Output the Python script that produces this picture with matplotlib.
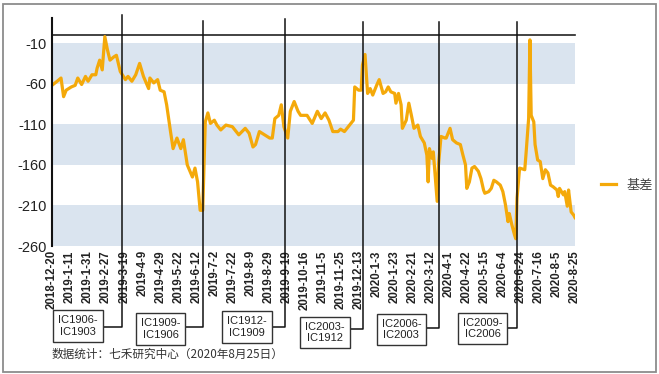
import matplotlib
matplotlib.use('Agg')
import matplotlib.pyplot as plt
import matplotlib.patches as mpatches
import matplotlib.transforms as mtransforms

plt.rcParams['font.family'] = ['Liberation Sans', 'Noto Sans CJK SC', 'DejaVu Sans']

# x tick labels, one every 14 trading days
date_labels = ['2018-12-20', '2019-1-11', '2019-1-31', '2019-2-27', '2019-3-19', '2019-4-9',
               '2019-4-29', '2019-5-22', '2019-6-12', '2019-7-2', '2019-7-22', '2019-8-9',
               '2019-8-29', '2019-9-19', '2019-10-16', '2019-11-5', '2019-11-25', '2019-12-13',
               '2020-1-3', '2020-1-23', '2020-2-21', '2020-3-12', '2020-4-1', '2020-4-22',
               '2020-5-15', '2020-6-4', '2020-6-24', '2020-7-16', '2020-8-5', '2020-8-25']
step = 14

# basis series: trading-day index and value
day = [0, 4, 7, 9, 11, 15, 18, 20, 23, 26, 28, 31, 34, 35, 37, 39, 41, 43, 45, 48,
       50, 53, 57, 59, 62, 65, 68, 71, 75, 76, 79, 82, 84, 87, 89, 92, 94, 97, 100, 102,
       105, 109, 111, 113, 115, 117, 119, 121, 123, 126, 128, 131, 135, 140, 145, 150, 153,
       156, 158, 161, 165, 169, 171, 173, 176, 178, 180, 183, 185, 188, 191, 193, 198, 202, 206,
       209, 212, 215, 218, 222, 224, 227, 231, 234, 235, 238, 240, 241, 243, 245, 247, 249,
       252, 254, 257, 259, 261, 263, 266, 267, 269, 271, 272, 275, 277, 279, 281, 284, 286, 289, 291, 292,
       293, 295, 296, 299, 300, 302, 305, 306, 309, 311, 314, 317, 319, 321, 322, 324, 326, 328, 331, 333,
       335, 336, 339, 341, 343, 345, 348, 350, 352, 354, 355, 357, 359, 360, 361, 363, 367, 368, 370, 371,
       372, 374, 375, 377, 379, 381, 383, 385, 387, 389, 392, 393, 394, 397, 398, 400, 401, 403, 405, 406]
basis = [-62, -57, -53, -76, -68, -64, -62, -53, -61, -51, -57, -49, -49, -41, -31, -43, -2, -18, -31, -27,
         -25, -45, -55, -51, -57, -49, -35, -51, -66, -53, -59, -55, -68, -70, -86, -119, -140, -127, -140, -129,
         -160, -175, -164, -181, -216, -216, -107, -96, -109, -105, -111, -117, -111, -113, -123, -115, -121,
         -138, -135, -119, -123, -127, -127, -103, -99, -86, -113, -127, -94, -82, -94, -99, -99, -109, -94,
         -103, -96, -105, -119, -119, -116, -119, -111, -105, -64, -68, -68, -37, -24, -72, -66, -74,
         -62, -55, -72, -70, -64, -70, -72, -84, -72, -86, -115, -105, -84, -99, -115, -111, -125, -133, -148, -181,
         -140, -152, -144, -205, -160, -125, -127, -127, -115, -129, -133, -135, -148, -160, -189, -181, -164, -162, -168, -177,
         -191, -195, -193, -189, -179, -181, -185, -193, -209, -230, -220, -234, -246, -251, -201, -164, -166, -146, -103, -6,
         -99, -107, -135, -154, -156, -177, -166, -170, -185, -187, -191, -199, -189, -197, -193, -211, -191, -218, -222, -225]

# contract roll dates (trading-day index) and spread labels
roll_day = [54.5, 117.5, 181, 241.5, 300.5, 361]
roll_label = ['IC1906-\nIC1903', 'IC1909-\nIC1906', 'IC1912-\nIC1909',
              'IC2003-\nIC1912', 'IC2006-\nIC2003', 'IC2009-\nIC2006']
box_day = [20.3, 84.2, 151.2, 212, 271.2, 334.3]

yticks = [-260, -210, -160, -110, -60, -10]

fig = plt.figure(figsize=(6.59, 3.74), dpi=100)
ax = fig.add_axes([52/659, 1-246/374, 523/659, 211/374])

for lo, hi in [(-60, -10), (-160, -110), (-260, -210)]:
    ax.axhspan(lo, hi, color='#DAE4EF', lw=0, zorder=0)

ax.plot(day, basis, color='#F4A90A', lw=2.3, label='基差', zorder=3, solid_joinstyle='round')

ax.set_xlim(0, (len(date_labels)-1)*step)
ax.set_ylim(-260, 0)
ax.set_yticks(yticks)
ax.set_yticklabels([str(v) for v in yticks], fontsize=10.5, color='#222222')
ax.set_xticks(range(0, len(date_labels)*step, step))
ax.set_xticklabels(date_labels, rotation=90, fontsize=8.3, fontweight='bold', color='#222222')
ax.tick_params(length=0)
ax.tick_params(axis='y', pad=4)
ax.tick_params(axis='x', pad=3)

for s in ['right', 'bottom']:
    ax.spines[s].set_visible(False)
ax.spines['top'].set_color('#222222')
ax.spines['top'].set_linewidth(1.2)
ax.spines['left'].set_visible(False)

trans = mtransforms.blended_transform_factory(ax.transData, ax.transAxes)
# left edge line, running a bit above the plot
ax.plot([0, 0], [0, 1.08], color='#111111', lw=1.5, transform=trans, clip_on=False, zorder=4)

tops = [1.095, 1.066, 1.076, 1.062, 1.062, 1.062]
conn_y = [-0.384, -0.384, -0.384, -0.393, -0.389, -0.389]
box_y = [-0.379, -0.393, -0.384, -0.41, -0.395, -0.391]
for i in range(len(roll_day)):
    ax.plot([roll_day[i], roll_day[i], box_day[i]], [tops[i], conn_y[i], conn_y[i]],
            color='#111111', lw=1.1, transform=trans, clip_on=False, zorder=4)
    ax.text(box_day[i], box_y[i], roll_label[i], transform=trans, ha='center', va='center',
            fontsize=8, color='#222222', linespacing=1.15, zorder=5,
            bbox=dict(boxstyle='square,pad=0.45', fc='white', ec='#333333', lw=1))

fig.legend(loc='center left', bbox_to_anchor=(601/659, 1-185/374), frameon=False,
           handlelength=1.1, handletextpad=0.8, borderpad=0, borderaxespad=0,
           prop={'family': ['Noto Sans CJK SC'], 'size': 9.5}, labelcolor='#444444')

fig.text(52/659, 1-354/374, '数据统计：七禾研究中心（2020年8月25日）', fontsize=8.4,
         family=['Noto Sans CJK SC', 'DejaVu Sans'], color='#333333', va='center', ha='left')

fig.patches.append(mpatches.Rectangle((2.5/659, 2.5/374), 653/659, 368/374, transform=fig.transFigure,
                                      fill=False, ec='#8c8c8c', lw=1.3))

fig.savefig('out.png', dpi=100)
